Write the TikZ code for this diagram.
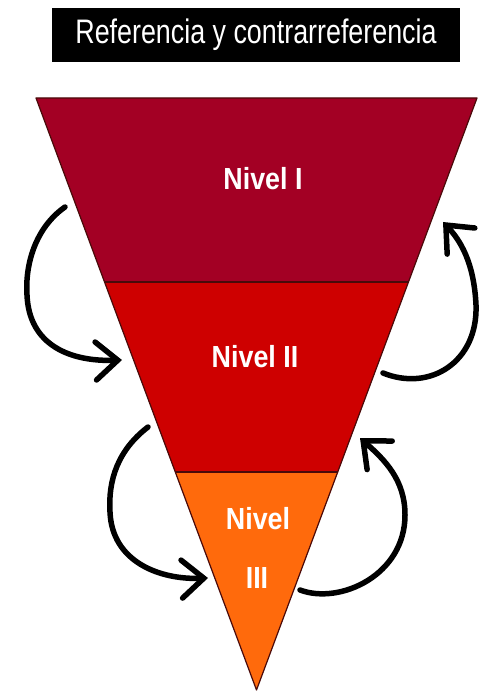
\documentclass[tikz,border=0pt]{standalone}
\usepackage{fontspec}
\setmainfont{Liberation Sans}
\newfontfamily\titlefont[FakeStretch=0.79]{Liberation Sans}
\newfontfamily\levelfont[FakeStretch=0.88]{Liberation Sans}
\usetikzlibrary{arrows.meta}
\definecolor{nivA}{HTML}{A30024}
\definecolor{nivB}{HTML}{CE0000}
\definecolor{nivC}{HTML}{FF6A0C}
\definecolor{edgeC}{HTML}{4A0A0A}
\begin{document}
\begin{tikzpicture}[x=1pt,y=-1pt,
  band/.style={draw=edgeC,line width=1.2pt,line join=round},
  lvl/.style={text=white,font=\levelfont\bfseries\fontsize{30.5}{30.5}\selectfont,inner sep=0pt},
  flow/.style={line width=5.5pt,line cap=round,line join=round,
    -{Straight Barb[length=22pt,width=38pt,line cap=round]}}]
\useasboundingbox (0,0) rectangle (479,692);
% title
\node[fill=black,minimum width=408pt,minimum height=54pt,inner sep=0pt,
  text=white,font=\titlefont\fontsize{34}{34}\selectfont] (title) at (256,35)
  {Referencia y contrarreferencia};
% bands
\coordinate (tl) at (36,98);
\coordinate (tr) at (477,98);
\coordinate (ml) at (104.5,282);
\coordinate (mr) at (408.5,282);
\coordinate (ll) at (175,472);
\coordinate (lr) at (338,472);
\coordinate (apex) at (256.5,690);
\fill[nivA] (tl) -- (tr) -- (mr) -- (ml) -- cycle;
\fill[nivB] (ml) -- (mr) -- (lr) -- (ll) -- cycle;
\fill[nivC] (ll) -- (lr) -- (apex) -- cycle;
\draw[band] (tl) -- (tr) -- (apex) -- cycle;
\draw[band,line width=1.8pt] (ml) -- (mr);
\draw[band,line width=1.4pt] (ll) -- (lr);
% labels
\node[lvl] (n1) at (263,179) {Nivel I};
\node[lvl] (n2) at (255,357) {Nivel II};
\node[lvl] (n3a) at (258,519) {Nivel};
\node[lvl] (n3b) at (257,578) {III};
% arrow end points
\coordinate (a1s) at (65,207);
\coordinate (a1e) at (122,360);
\coordinate (b1s) at (383,373);
\coordinate (b1e) at (443,222);
\coordinate (a2s) at (148,427);
\coordinate (a2e) at (208,578);
\coordinate (b2s) at (300,590);
\coordinate (b2e) at (360,438);
\draw[flow] (a1s) .. controls (35,228) and (25,265) .. (27,295)
  .. controls (29,345) and (70,362) .. (a1e);
\draw[flow] (b1s) .. controls (430,392) and (478,362) .. (476,305)
  .. controls (474,262) and (460,240) .. (b1e);
\draw[flow] (a2s) .. controls (118,450) and (108,480) .. (110,512)
  .. controls (112,562) and (160,580) .. (a2e);
\draw[flow] (b2s) .. controls (340,605) and (405,575) .. (405,515)
  .. controls (405,480) and (385,460) .. (b2e);
\end{tikzpicture}
\end{document}
